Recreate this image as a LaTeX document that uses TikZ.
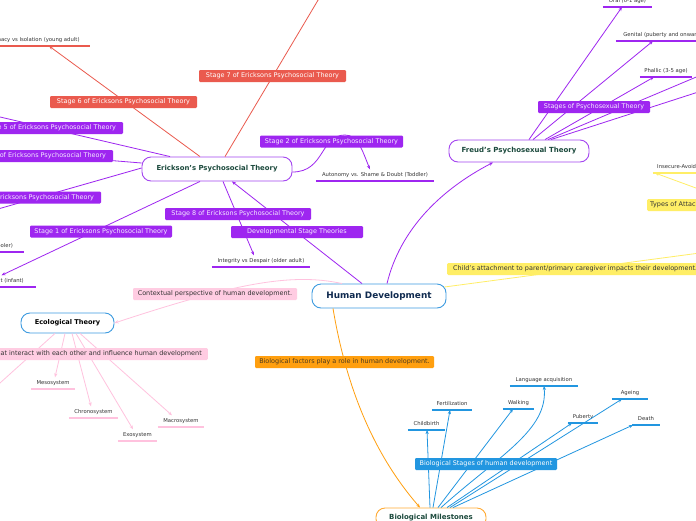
\documentclass[tikz,border=0pt]{standalone}
\usepackage{fontspec}
\setmainfont{DejaVu Sans}
\usetikzlibrary{arrows.meta}
\definecolor{cpurple}{HTML}{9E26F0}
\definecolor{cpurpleb}{HTML}{A445F0}
\definecolor{cred}{HTML}{EA5A4E}
\definecolor{cblue}{HTML}{2296E0}
\definecolor{cborderblue}{HTML}{3D9BE0}
\definecolor{corange}{HTML}{FF9F0F}
\definecolor{corangeb}{HTML}{FFAA33}
\definecolor{cyellow}{HTML}{FFEE66}
\definecolor{cpink}{HTML}{FFCCE2}
\definecolor{cpinkline}{HTML}{FFC2DE}
\definecolor{cgreen}{HTML}{1C4A3D}
\definecolor{cnavy}{HTML}{0F2A4F}
\definecolor{ctext}{HTML}{333333}
\definecolor{clabtxt}{HTML}{F5EBFF}
\definecolor{corangetxt}{HTML}{4D3B1F}
\begin{document}
\begin{tikzpicture}[x=1pt,y=-1pt,
  topic/.style={draw=#1, line width=0.9pt, rounded corners=9pt, fill=white, inner sep=0pt},
  lbl/.style={fill=#1, rounded corners=1.2pt, inner sep=0pt, minimum height=12pt, text height=4.7pt, text depth=1.3pt, font=\fontsize{6.45}{7}\selectfont},
  item/.style={inner xsep=0pt, inner ysep=3.1pt, text height=3.9pt, text depth=1.2pt, font=\fontsize{5.3}{6}\selectfont, text=ctext, anchor=south,
     append after command={(\tikzlastnode.south west) edge[draw=#1, line width=1.2pt] (\tikzlastnode.south east)}},
  link/.style={draw=#1, line width=0.8pt},
  arr/.style={link=#1, -{Stealth[length=4pt,width=3.2pt]}},
]
\useasboundingbox (0,0) rectangle (696,520);
\clip (0,0) rectangle (696,520);
\fill[white] (0,0) rectangle (696,520);

% ---- topics
\node[topic=cborderblue, minimum width=134pt, minimum height=24pt, font=\bfseries\fontsize{8.9}{10}\selectfont, text=cnavy] (hd) at (379,296) {Human Development};
\node[topic=cpurpleb, minimum width=150pt, minimum height=24pt, font=\bfseries\fontsize{6.9}{8}\selectfont, text=cgreen] (er) at (217,169) {Erickson's Psychosocial Theory};
\node[topic=cpurpleb, minimum width=140pt, minimum height=22pt, font=\bfseries\fontsize{7}{8}\selectfont, text=cgreen] (fr) at (519,151) {Freud's Psychosexual Theory};
\node[topic=cborderblue, minimum width=93pt, minimum height=20pt, font=\bfseries\fontsize{6.6}{7}\selectfont, text=black] (ec) at (67.5,323) {Ecological Theory};
\node[topic=corangeb, minimum width=110pt, minimum height=20pt, font=\bfseries\fontsize{7}{8}\selectfont, text=cgreen] (bm) at (431,518) {Biological Milestones};

% ---- items
\node[item=cred, minimum width=113pt] (intimacy) at (33.5,46) {Intimacy vs Isolation (young adult)};
\node[item=cpurple, minimum width=118pt] (autonomy) at (375,181) {Autonomy vs. Shame \& Doubt (Toddler)};
\node[item=cpurple, minimum width=98pt] (integrity) at (261,267) {Integrity vs Despair (older adult)};
\node[item=cpurple, minimum width=89pt] (trust) at (-8.5,287) {Trust vs Mistrust (infant)};
\node[item=cpurple, minimum width=104pt] (initiative) at (-28,252) {Initiative vs Guilt (preschooler)};
\node[item=cpurple, minimum width=49pt] (oral) at (627.5,7) {Oral (0-1 age)};
\node[item=cpurple, minimum width=96pt] (genital) at (664,41) {Genital (puberty and onwards)};
\node[item=cpurple, minimum width=52pt] (phallic) at (666,77) {Phallic (3-5 age)};
\node[item=cyellow, minimum width=56pt] (insecure) at (681,173) {Insecure-Avoidant};
\node[item=cpinkline, minimum width=44pt] (meso) at (53,389) {Mesosystem};
\node[item=cpinkline, minimum width=49pt] (chrono) at (93.5,418) {Chronosystem};
\node[item=cpinkline, minimum width=39pt] (exo) at (137.5,441) {Exosystem};
\node[item=cpinkline, minimum width=46pt] (macro) at (181,427) {Macrosystem};
\node[item=cblue, minimum width=37pt] (childbirth) at (426.5,430) {Childbirth};
\node[item=cblue, minimum width=40pt] (fert) at (452,410) {Fertilization};
\node[item=cblue, minimum width=31pt] (walking) at (518.5,409) {Walking};
\node[item=cblue, minimum width=68pt] (lang) at (544,386) {Language acquisition};
\node[item=cblue, minimum width=30pt] (puberty) at (583,423) {Puberty};
\node[item=cblue, minimum width=36pt] (ageing) at (630,399) {Ageing};
\node[item=cblue, minimum width=28pt] (death) at (646,425) {Death};

% ---- off-picture ends
\coordinate (st7end) at (330,-20);
\coordinate (st5end) at (-30,110);
\coordinate (st4end) at (-30,149);
\coordinate (st3end) at (-30,217);
\coordinate (analend) at (720,67);
\coordinate (latend) at (720,85);
\coordinate (attach) at (790,241);
\coordinate (attachtypes) at (775,217);
\coordinate (micro) at (-20,401);

% ---- connectors: Human Development
\draw[arr=cpurple] ([xshift=-17pt]hd.north) -- ([xshift=15pt]er.south);
\draw[arr=cpurple] ([xshift=8pt]hd.north) .. controls (400,230) and (440,190) .. ([xshift=-26pt]fr.south);
\draw[arr=cpinkline] ([xshift=-37pt]hd.north) .. controls (290,272) and (230,285) .. (ec.east);
\draw[arr=corange] ([xshift=-46pt]hd.south) .. controls (345,380) and (370,450) .. ([xshift=-11pt]bm.north);
\draw[link=cyellow] ([xshift=-2pt,yshift=9pt]hd.east) -- (attach);
\draw[arr=cyellow] (attachtypes) -- ([xshift=-26pt]insecure.south);

% ---- Erickson
\draw[link=cred] ([xshift=8pt]er.north) -- (st7end);
\draw[arr=cred] ([xshift=-17pt]er.north) -- ([xshift=15.5pt]intimacy.south);
\draw[link=cpurple] ([xshift=-47pt]er.north) -- (st5end);
\draw[link=cpurple] ([yshift=6pt]er.west) -- (st4end);
\draw[link=cpurple] ([yshift=1pt]er.west) -- (st3end);
\draw[arr=cpurple] ([xshift=-17pt]er.south) -- ([xshift=10pt]trust.north);
\draw[arr=cpurple] ([xshift=6pt]er.south) -- ([xshift=-7pt]integrity.north);
\draw[arr=cpurple] ([yshift=-3pt]er.east) .. controls (325,172) and (320,135) .. (345,135) .. controls (358,135) and (362,150) .. ([xshift=-5pt]autonomy.north);

% ---- Freud
\draw[arr=cpurple] ([xshift=10pt]fr.north) -- ([xshift=-5.5pt]oral.south);
\draw[arr=cpurple] ([xshift=14pt]fr.north) -- ([xshift=-11pt]genital.south);
\draw[arr=cpurple] ([xshift=26pt]fr.north) -- ([xshift=-12pt]phallic.south);
\draw[link=cpurple] ([xshift=29pt]fr.north) -- (analend);
\draw[link=cpurple] ([xshift=32pt]fr.north) -- (latend);

% ---- Ecological
\draw[link=cpinkline] ([xshift=-12.5pt]ec.south) -- (micro);
\draw[arr=cpinkline] ([xshift=-2.5pt]ec.south) -- ([xshift=2pt]meso.north);
\draw[arr=cpinkline] ([xshift=4.5pt]ec.south) -- ([xshift=-2.5pt]chrono.north);
\draw[arr=cpinkline] ([xshift=8.5pt]ec.south) -- ([xshift=-4.5pt]exo.north);
\draw[arr=cpinkline] ([xshift=12.5pt]ec.south) -- ([xshift=-9pt]macro.north);

% ---- Biological
\draw[arr=cblue] ([xshift=-1pt]bm.north) -- ([xshift=0.5pt]childbirth.south);
\draw[arr=cblue] ([xshift=2pt]bm.north) -- ([xshift=-2pt]fert.south);
\draw[arr=cblue] ([xshift=7pt]bm.north) -- ([xshift=-5.5pt]walking.south);
\draw[arr=cblue] ([xshift=10pt]bm.north) .. controls (500,455) and (548,430) .. (lang.south);
\draw[arr=cblue] ([xshift=16pt]bm.north) -- ([xshift=-11pt]puberty.south);
\draw[arr=cblue] ([xshift=19pt]bm.north) -- ([xshift=-8pt]ageing.south);
\draw[arr=cblue] ([xshift=22pt]bm.north) -- ([xshift=-13pt]death.south);

% ---- labels on connectors
\node[lbl=cpurple, minimum width=132pt, text=clabtxt] (devst) at (297,232) {Developmental Stage Theories};
\node[lbl=cred, minimum width=147pt, text=white] (st7) at (272.5,76) {Stage 7 of Ericksons Psychosocial Theory};
\node[lbl=cred, minimum width=147pt, text=white] (st6) at (123.5,102) {Stage 6 of Ericksons Psychosocial Theory};
\node[lbl=cpurple, minimum width=147pt, text=clabtxt] (st5) at (49.5,128) {Stage 5 of Ericksons Psychosocial Theory};
\node[lbl=cpurple, minimum width=147pt, text=clabtxt] (st4) at (39.5,156) {Stage 4 of Ericksons Psychosocial Theory};
\node[lbl=cpurple, minimum width=147pt, text=clabtxt] (st3) at (27.5,197.5) {Stage 3 of Ericksons Psychosocial Theory};
\node[lbl=cpurple, minimum width=143pt, text=clabtxt] (st2) at (331.5,141.5) {Stage 2 of Ericksons Psychosocial Theory};
\node[lbl=cpurple, minimum width=146pt, text=clabtxt] (st8) at (238,214) {Stage 8 of Ericksons Psychosocial Theory};
\node[lbl=cpurple, minimum width=142pt, text=clabtxt] (st1) at (101,231.5) {Stage 1 of Ericksons Psychosocial Theory};
\node[lbl=cpurple, minimum width=112pt, text=clabtxt] (stps) at (594,107) {Stages of Psychosexual Theory};
\node[lbl=cyellow, inner xsep=6pt, anchor=west, text=ctext] (childatt) at (447,269) {Child's attachment to parent/primary caregiver impacts their development.};
\node[lbl=cyellow, inner xsep=3pt, anchor=west, text=ctext] (types) at (647,205) {Types of Attachment};
\node[lbl=cpink, minimum width=164pt, text=ctext] (context) at (215,294) {Contextual perspective of human development.};
\node[lbl=cpink, inner xsep=6pt, anchor=east, text=ctext] (ecolbl) at (208,354) {Systems that interact with each other and influence human development};
\node[lbl=corange, minimum width=179pt, text=corangetxt] (biofac) at (344.5,362) {Biological factors play a role in human development.};
\node[lbl=cblue, minimum width=142pt, text=white] (biost) at (486,464) {Biological Stages of human development};
\end{tikzpicture}
\end{document}
